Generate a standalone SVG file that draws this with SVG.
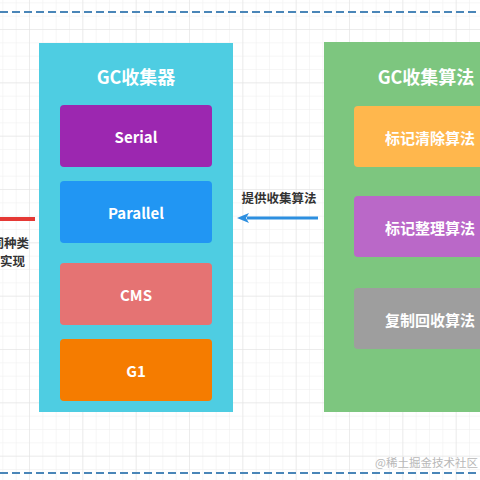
<svg xmlns="http://www.w3.org/2000/svg" width="480" height="480" viewBox="0 0 480 480">
<defs>
<pattern id="minor" x="3.33" y="3.33" width="13.333" height="13.333" patternUnits="userSpaceOnUse">
<path d="M13.333 0V13.333M0 13.333H13.333" stroke="#eeeeee" stroke-width="1" fill="none"/>
</pattern>
<pattern id="major" x="-23.33" y="-23.33" width="53.333" height="53.333" patternUnits="userSpaceOnUse">
<path d="M53.333 0V53.333M0 53.333H53.333" stroke="#e2e2e2" stroke-width="1" fill="none"/>
</pattern>
<marker id="arr" viewBox="0 0 12 10" refX="2" refY="5" markerWidth="12" markerHeight="10" markerUnits="userSpaceOnUse" orient="auto">
<path d="M12 5L0 0L3 5L0 10Z" fill="#2d8fe0"/>
</marker>
</defs>
<style>
.t{font-family:"Noto Sans CJK SC","Noto Sans",sans-serif;font-weight:bold;fill:#ffffff;text-anchor:middle;dominant-baseline:central}
.h{font-size:18px}
.n{font-size:15px}
.lbl{font-family:"Noto Sans CJK SC",sans-serif;font-weight:bold;font-size:12.5px;fill:#333333;dominant-baseline:central}
.dash{stroke:#4a86b8;stroke-width:2;stroke-dasharray:8 4;fill:none}
</style>
<rect width="480" height="480" fill="#ffffff"/>
<rect width="480" height="480" fill="url(#minor)"/>
<rect width="480" height="480" fill="url(#major)"/>
<line class="dash" x1="0" y1="12" x2="480" y2="12"/>
<line class="dash" x1="0" y1="473" x2="480" y2="473"/>
<g id="collectors">
<rect x="39" y="43" width="194" height="369" fill="#4ecde2"/>
<text class="t h" x="136" y="76">GC收集器</text>
</g>
<g id="serial">
<rect x="60" y="105" width="152" height="62" rx="4" fill="#9c27b0"/>
<text class="t n" x="136" y="136">Serial</text>
</g>
<g id="parallel">
<rect x="60" y="181" width="152" height="62" rx="4" fill="#2196f3"/>
<text class="t n" x="136" y="212">Parallel</text>
</g>
<g id="cms">
<rect x="60" y="263" width="152" height="62" rx="4" fill="#e57373"/>
<text class="t n" x="136" y="294">CMS</text>
</g>
<g id="g1">
<rect x="60" y="339" width="152" height="62" rx="4" fill="#f57c00"/>
<text class="t n" x="136" y="370">G1</text>
</g>
<g id="algorithms">
<rect x="324" y="42" width="180" height="370" fill="#7dc67f"/>
<text class="t h" x="426" y="76">GC收集算法</text>
</g>
<g id="mark-sweep">
<rect x="354" y="106" width="152" height="61" rx="4" fill="#ffb74d"/>
<text class="t n" x="430" y="137">标记清除算法</text>
</g>
<g id="mark-compact">
<rect x="354" y="196" width="152" height="61" rx="4" fill="#ba68c8"/>
<text class="t n" x="430" y="227">标记整理算法</text>
</g>
<g id="copying">
<rect x="354" y="288" width="152" height="61" rx="4" fill="#9e9e9e"/>
<text class="t n" x="430" y="319">复制回收算法</text>
</g>
<g id="connectors">
<line x1="318" y1="218" x2="247" y2="218" stroke="#2d8fe0" stroke-width="3" marker-end="url(#arr)"/>
<text class="lbl" x="279" y="197" text-anchor="middle">提供收集算法</text>
<line x1="0" y1="219" x2="35" y2="219" stroke="#e53935" stroke-width="4"/>
<text class="lbl" x="29" y="242" text-anchor="end">同种类</text>
<text class="lbl" x="25" y="260" text-anchor="end">实现</text>
</g>
<text x="478" y="467" font-family="Noto Sans CJK SC,sans-serif" font-size="11.5" fill="#b8b8b8" text-anchor="end">@稀土掘金技术社区</text>
</svg>
